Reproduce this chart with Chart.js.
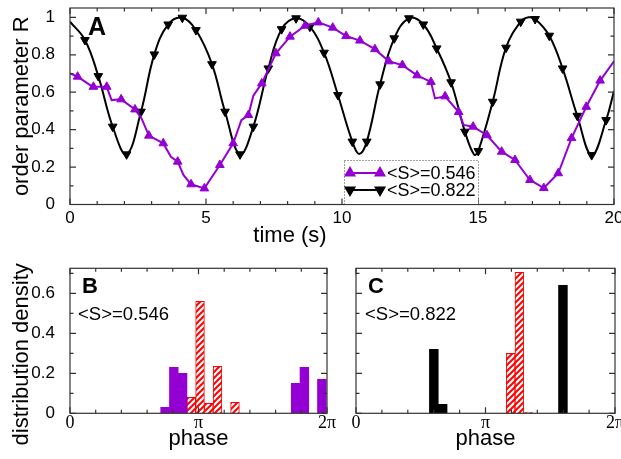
<!DOCTYPE html>
<html>
<head>
<meta charset="utf-8">
<script src="https://cdn.jsdelivr.net/npm/chart.js@4.4.0/dist/chart.umd.min.js"></script>
<style>
  body { margin: 0; background: #fff; }
  #wrap { position: relative; width: 621px; height: 459px; overflow: hidden; }
  .box { position: absolute; }
</style>
</head>
<body>
<div id="wrap">
  <div class="box" style="left:0;top:0;width:621px;height:250px"><canvas id="chartA"></canvas></div>
  <div class="box" style="left:0;top:250px;width:340px;height:209px"><canvas id="chartB"></canvas></div>
  <div class="box" style="left:340px;top:250px;width:281px;height:209px"><canvas id="chartC"></canvas></div>
</div>
<script>
// panel A: order parameter R against time (s); mark = 1 where a symbol is drawn
var purpleTime = [0, 0.28, 0.74, 0.86, 1.35, 1.53, 1.88, 2.39, 2.63, 2.90, 3.43, 3.71, 3.96, 4.17, 4.45, 4.94,
  5.51, 6.00, 6.30, 6.56, 6.74, 7.05, 7.57, 8.09, 8.64, 9.13, 9.66, 10.15, 10.66, 11.21, 11.72, 12.22, 12.76,
  13.27, 13.42, 13.79, 14.29, 14.47, 14.82, 15.33, 15.87, 16.36, 16.91, 17.42, 17.95, 18.44, 18.98, 19.49, 20.0];
var purpleR = [0.701, 0.683, 0.638, 0.629, 0.629, 0.558, 0.562, 0.508, 0.460, 0.368, 0.327, 0.255, 0.229, 0.158, 0.108, 0.086,
  0.211, 0.327, 0.451, 0.478, 0.581, 0.647, 0.808, 0.897, 0.955, 0.973, 0.945, 0.900, 0.876, 0.830, 0.765, 0.745, 0.690,
  0.655, 0.567, 0.578, 0.494, 0.425, 0.416, 0.370, 0.282, 0.238, 0.131, 0.088, 0.167, 0.355, 0.522, 0.662, 0.765];
var purpleMark = [0,1,0,1,1,0,1,1,0,1, 1,0,1,0,1,1,1,1,0,1, 0,1,1,1,1,1,1,1,1,1, 1,1,1,1,0,1,1,0,1,1, 1,1,1,1,1,1,1,1,0];

var blackTime = [0, 0.55, 1.04, 1.57, 2.08, 2.61, 3.10, 3.61, 4.13, 4.63, 5.22, 5.70, 6.25, 6.74, 7.29, 7.78, 8.31,
  8.82, 9.34, 9.85, 10.38, 10.63, 10.91, 11.40, 11.92, 12.46, 12.99, 13.48, 14.01, 14.52, 14.86, 15.01, 15.54,
  16.03, 16.57, 16.86, 17.10, 17.62, 18.11, 18.65, 19.18, 19.71, 20.0];
var blackR = [0.977, 0.879, 0.686, 0.416, 0.268, 0.496, 0.802, 0.962, 0.998, 0.932, 0.750, 0.496, 0.268, 0.416, 0.727, 0.937, 0.995,
  0.950, 0.811, 0.585, 0.336, 0.270, 0.336, 0.642, 0.888, 0.995, 0.962, 0.834, 0.653, 0.389, 0.266, 0.286, 0.549,
  0.838, 0.977, 1.0, 0.991, 0.902, 0.727, 0.474, 0.264, 0.451, 0.606];
var blackMark = [0,1,1,1,1, 1,1,1,1,1, 1,1,1,1,1, 1,1,1,1,1, 1,0,1,1,1, 1,1,1,1,1, 0,1,1,1,1, 0,1,1,1,1, 1,1,0];

var seriesLabels = ['<S>=0.546', '<S>=0.822'];

// panels B and C: distribution density against phase (phase in units of pi)
var bPurplePhase = [0.740, 0.808, 0.876, 1.756, 1.824, 1.960];
var bPurpleDensity = [0.03, 0.23, 0.20, 0.15, 0.23, 0.17];
var bRedPhase = [0.944, 1.012, 1.080, 1.148, 1.284];
var bRedDensity = [0.08, 0.56, 0.05, 0.235, 0.055];
var cBlackPhase = [0.601, 0.669, 1.598];
var cBlackDensity = [0.32, 0.045, 0.64];
var cRedPhase = [1.194, 1.262, 1.330];
var cRedDensity = [0.30, 0.705, 0.004];
var phaseLabels = ['0', 'π', '2π'];

var SANS = '"Liberation Sans", Arial, Helvetica, sans-serif';
var SERIF = '"Liberation Serif", "Times New Roman", serif';
var violet = '#9400d3';

Chart.defaults.font.family = SANS;
Chart.defaults.color = '#000';

function pts(xs, ys) {
  return xs.map(function(x, i) { return {x: x, y: ys[i]}; });
}

function hatch(color) {
  var c = document.createElement('canvas');
  c.width = 6; c.height = 6;
  var g = c.getContext('2d');
  g.fillStyle = '#fff';
  g.fillRect(0, 0, 6, 6);
  g.strokeStyle = color;
  g.lineWidth = 2;
  g.beginPath();
  g.moveTo(0, 6); g.lineTo(6, 0);
  g.moveTo(-3, 3); g.lineTo(3, -3);
  g.moveTo(3, 9); g.lineTo(9, 3);
  g.stroke();
  return g.createPattern(c, 'repeat');
}

function onStep(v, step) {
  var r = v / step;
  return Math.abs(r - Math.round(r)) < 1e-6;
}

// fixed axis boxes so the plot areas line up with the reference
function fixWidth(w) {
  return function(s) { s.width = w; s.paddingTop = 0; s.paddingBottom = 0; };
}
function fixHeight(h) {
  return function(s) { s.height = h; s.paddingLeft = 0; s.paddingRight = 0; };
}

// box frame with inward ticks on all four sides
var frameTicks = {
  id: 'frameTicks',
  afterDatasetsDraw: function(chart, args, opts) {
    if (!opts.xMajor) return;
    var ctx = chart.ctx, a = chart.chartArea;
    var xs = chart.scales.x, ys = chart.scales.y;
    ctx.save();
    ctx.strokeStyle = '#333';
    ctx.lineWidth = 1.2;
    ctx.beginPath();
    xs.ticks.forEach(function(t) {
      var px = xs.getPixelForValue(t.value);
      var len = onStep(t.value, opts.xMajor) ? 6 : 3.5;
      ctx.moveTo(px, a.bottom); ctx.lineTo(px, a.bottom - len);
      ctx.moveTo(px, a.top); ctx.lineTo(px, a.top + len);
    });
    ys.ticks.forEach(function(t) {
      var py = ys.getPixelForValue(t.value);
      var len = onStep(t.value, opts.yMajor) ? 6 : 3.5;
      ctx.moveTo(a.left, py); ctx.lineTo(a.left + len, py);
      ctx.moveTo(a.right, py); ctx.lineTo(a.right - len, py);
    });
    ctx.stroke();
    ctx.strokeRect(a.left, a.top, a.right - a.left, a.bottom - a.top);
    ctx.restore();
  }
};

// free text placed relative to the plot area
var notes = {
  id: 'notes',
  afterDraw: function(chart, args, opts) {
    var ctx = chart.ctx, a = chart.chartArea;
    (opts.items || []).forEach(function(n) {
      ctx.save();
      ctx.font = n.font;
      ctx.fillStyle = '#000';
      ctx.textAlign = n.align || 'left';
      ctx.textBaseline = n.baseline || 'alphabetic';
      ctx.translate(a.left + n.dx, a.top + n.dy);
      if (n.rotate) ctx.rotate(n.rotate);
      ctx.fillText(n.text, 0, 0);
      ctx.restore();
    });
  }
};

// dotted legend box inside panel A
var boxLegend = {
  id: 'boxLegend',
  afterDraw: function(chart, args, opts) {
    if (!opts.show) return;
    var ctx = chart.ctx, a = chart.chartArea;
    var x0 = a.left + opts.dx, y0 = a.top + opts.dy;
    ctx.save();
    ctx.fillStyle = '#fff';
    ctx.fillRect(x0, y0, opts.w, opts.h);
    ctx.setLineDash([1, 2]);
    ctx.strokeStyle = '#444';
    ctx.lineWidth = 1;
    ctx.strokeRect(x0 + 0.5, y0 + 0.5, opts.w, opts.h);
    ctx.setLineDash([]);
    chart.data.datasets.forEach(function(ds, i) {
      var y = y0 + opts.rowTop + i * opts.rowGap;
      ctx.strokeStyle = ds.borderColor;
      ctx.fillStyle = ds.borderColor;
      ctx.lineWidth = ds.borderWidth;
      ctx.beginPath();
      ctx.moveTo(x0 + 6, y); ctx.lineTo(x0 + 36, y);
      ctx.stroke();
      [x0 + 6, x0 + 36].forEach(function(px) {
        Chart.helpers.drawPoint(ctx, {pointStyle: 'triangle', radius: 5, rotation: ds.pointRotation || 0, borderWidth: 1}, px, y);
      });
      ctx.fillStyle = '#000';
      ctx.font = '18px ' + SANS;
      ctx.textBaseline = 'middle';
      ctx.fillText(ds.label, x0 + 43, y + 1);
    });
    ctx.restore();
  }
};

Chart.register(frameTicks, notes, boxLegend);

var tickFont = {size: 17, family: SANS};
var titleFont = {size: 22, family: SANS};

new Chart(document.getElementById('chartA'), {
  type: 'line',
  data: {
    datasets: [{
      label: seriesLabels[0],
      data: pts(purpleTime, purpleR),
      borderColor: violet,
      backgroundColor: violet,
      borderWidth: 2,
      pointStyle: 'triangle',
      pointRadius: function(c) { return purpleMark[c.dataIndex] ? 5 : 0; },
      pointBorderWidth: 1,
      tension: 0
    }, {
      label: seriesLabels[1],
      data: pts(blackTime, blackR),
      borderColor: '#000',
      backgroundColor: '#000',
      borderWidth: 2,
      pointStyle: 'triangle',
      pointRotation: 180,
      pointRadius: function(c) { return blackMark[c.dataIndex] ? 5 : 0; },
      pointBorderWidth: 1,
      tension: 0.4
    }]
  },
  options: {
    animation: false,
    responsive: true,
    maintainAspectRatio: false,
    layout: {padding: {top: 8, right: 7, left: 0, bottom: 0}},
    plugins: {
      legend: {display: false},
      tooltip: {enabled: false},
      frameTicks: {xMajor: 5, yMajor: 0.2},
      boxLegend: {show: true, dx: 274, dy: 152, w: 134, h: 44, rowTop: 13, rowGap: 17},
      notes: {items: [
        {text: 'A', font: 'bold 25px ' + SANS, dx: 18, dy: 27},
        {text: 'time (s)', font: '22px ' + SANS, dx: 220, dy: 228, align: 'center', baseline: 'middle'}
      ]}
    },
    scales: {
      x: {
        type: 'linear', min: 0, max: 20, offset: false,
        grid: {display: false}, border: {display: false},
        ticks: {stepSize: 1, autoSkip: false, maxRotation: 0, padding: -4, font: tickFont,
          callback: function(v) { return onStep(v, 5) ? String(v) : ''; }},
        afterFit: fixHeight(45.5)
      },
      y: {
        min: 0, max: 1.05,
        grid: {display: false}, border: {display: false},
        ticks: {stepSize: 0.1, includeBounds: false, autoSkip: false, padding: 7, font: tickFont,
          callback: function(v) { return onStep(v, 0.2) ? String(Math.round(v * 10) / 10) : ''; }},
        title: {display: true, text: 'order parameter R', font: titleFont, padding: {top: 9, bottom: 0}},
        afterFit: fixWidth(70)
      }
    }
  }
});

function histOptions(showY, noteItems, padRight, yWidth) {
  return {
    animation: false,
    responsive: true,
    maintainAspectRatio: false,
    layout: {padding: {top: 18.3, right: padRight, left: 0, bottom: 0}},
    plugins: {
      legend: {display: false},
      tooltip: {enabled: false},
      frameTicks: {xMajor: 1, yMajor: 0.2},
      notes: {items: noteItems}
    },
    scales: {
      x: {
        type: 'linear', min: 0, max: 2, offset: false,
        grid: {display: false}, border: {display: false},
        ticks: {stepSize: 0.2, autoSkip: false, maxRotation: 0, padding: -9, font: {size: 18, family: SERIF},
          callback: function(v) { return onStep(v, 1) ? phaseLabels[Math.round(v)] : ''; }},
        title: {display: true, text: 'phase', font: titleFont, padding: {top: 0, bottom: 7}},
        afterFit: fixHeight(45.7)
      },
      y: {
        min: 0, max: 0.725,
        grid: {display: false}, border: {display: false},
        ticks: {stepSize: 0.1, includeBounds: false, autoSkip: false, padding: 7, font: tickFont,
          callback: function(v) { return showY && onStep(v, 0.2) ? String(Math.round(v * 10) / 10) : ''; }},
        afterFit: fixWidth(yWidth)
      }
    }
  };
}

var barStyle = {grouped: false, barPercentage: 1, categoryPercentage: 1};

new Chart(document.getElementById('chartB'), {
  type: 'bar',
  data: {
    datasets: [
      Object.assign({label: 'B ' + seriesLabels[0], data: pts(bPurplePhase, bPurpleDensity),
        backgroundColor: violet, borderWidth: 0}, barStyle),
      Object.assign({label: 'B red', data: pts(bRedPhase, bRedDensity),
        backgroundColor: hatch('#ff0000'), borderColor: '#ff0000', borderWidth: 1}, barStyle)
    ]
  },
  options: histOptions(true, [
    {text: 'B', font: 'bold 22px ' + SANS, dx: 12, dy: 25},
    {text: '<S>=0.546', font: '18.5px ' + SANS, dx: 8, dy: 51.7},
    {text: 'distribution density', font: '22px ' + SANS, dx: -48, dy: 86, align: 'center', baseline: 'middle', rotate: -Math.PI / 2}
  ], 13, 70)
});

new Chart(document.getElementById('chartC'), {
  type: 'bar',
  data: {
    datasets: [
      Object.assign({label: 'C ' + seriesLabels[1], data: pts(cBlackPhase, cBlackDensity),
        backgroundColor: '#000', borderWidth: 0}, barStyle),
      Object.assign({label: 'C red', data: pts(cRedPhase, cRedDensity),
        backgroundColor: hatch('#ff0000'), borderColor: '#ff0000', borderWidth: 1}, barStyle)
    ]
  },
  options: histOptions(false, [
    {text: 'C', font: 'bold 22px ' + SANS, dx: 12, dy: 25},
    {text: '<S>=0.822', font: '18.5px ' + SANS, dx: 9, dy: 51.7}
  ], 6, 16)
});
</script>
</body>
</html>
